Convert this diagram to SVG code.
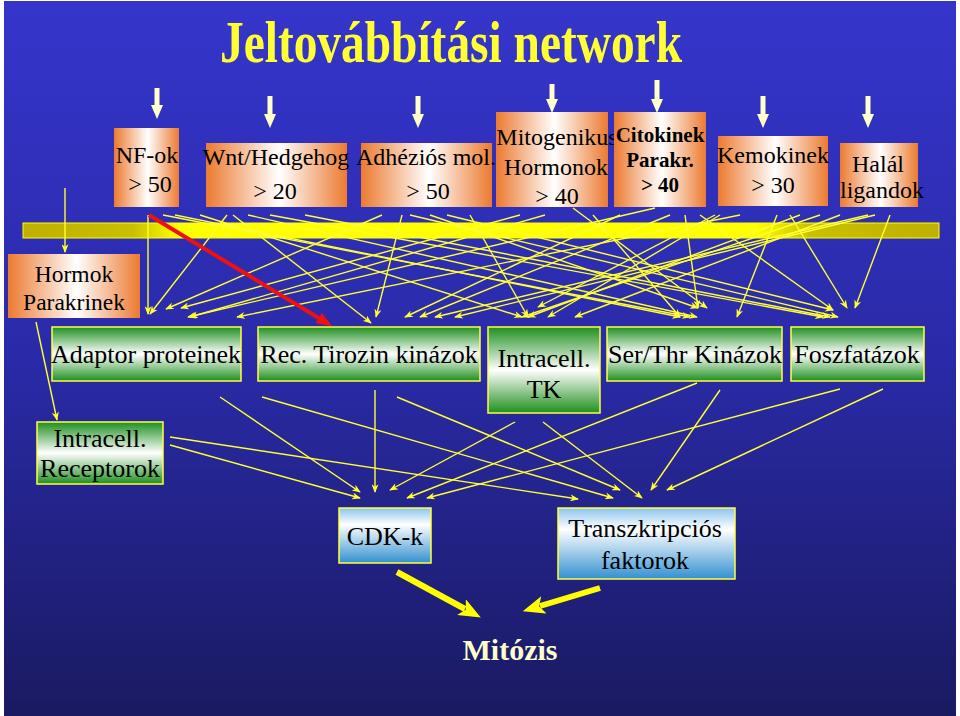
<svg xmlns="http://www.w3.org/2000/svg" width="960" height="716" viewBox="0 0 960 716">
<defs>
<linearGradient id="bg" x1="0" y1="0" x2="0" y2="1"><stop offset="0" stop-color="#3535cc"/><stop offset="0.5" stop-color="#2a2aa8"/><stop offset="1" stop-color="#1a1a62"/></linearGradient>
<linearGradient id="og" x1="0" y1="0" x2="1" y2="0"><stop offset="0" stop-color="#ec7a30"/><stop offset="0.52" stop-color="#ffffff"/><stop offset="1" stop-color="#ec7a30"/></linearGradient>
<linearGradient id="gg" x1="0" y1="0" x2="0" y2="1"><stop offset="0" stop-color="#1f8f1f"/><stop offset="0.5" stop-color="#ffffff"/><stop offset="1" stop-color="#1f8f1f"/></linearGradient>
<linearGradient id="blg" x1="0" y1="0" x2="0" y2="1"><stop offset="0" stop-color="#8cc4ee"/><stop offset="0.3" stop-color="#ffffff"/><stop offset="1" stop-color="#3390d0"/></linearGradient>
<linearGradient id="barg" x1="0" y1="0" x2="1" y2="0"><stop offset="0" stop-color="#bfb000"/><stop offset="0.12" stop-color="#c8c000"/><stop offset="0.17" stop-color="#ffff00"/><stop offset="0.8" stop-color="#ffff00"/><stop offset="0.86" stop-color="#c8c000"/><stop offset="1" stop-color="#bfb000"/></linearGradient>
<marker id="ay" viewBox="0 0 10 8" markerWidth="9" markerHeight="7" refX="9" refY="4" orient="auto" markerUnits="userSpaceOnUse"><path d="M0,0 L10,4 L0,8 L3,4 z" fill="#ffff33"/></marker>
<marker id="aw" viewBox="0 0 14 12" markerWidth="14" markerHeight="12" refX="1" refY="6" orient="auto" markerUnits="userSpaceOnUse"><path d="M0,0 L14,6 L0,12 z" fill="#ffffcc"/></marker>
<marker id="ab" viewBox="0 0 22 18" markerWidth="22" markerHeight="18" refX="4" refY="9" orient="auto" markerUnits="userSpaceOnUse"><path d="M0,0 L22,9 L0,18 L5,9 z" fill="#ffff00"/></marker>
<marker id="ar" viewBox="0 0 16 12" markerWidth="16" markerHeight="12" refX="4" refY="6" orient="auto" markerUnits="userSpaceOnUse"><path d="M0,0 L16,6 L0,12 z" fill="#ee1111"/></marker>
</defs>
<style>
.t{font-family:"Liberation Serif","Times New Roman",serif;fill:#000;text-anchor:middle}
.s24{font-size:24px}.s26{font-size:26px}
.b{font-weight:bold}
.ob{fill:url(#og)}
.gb{fill:url(#gg);stroke:#ffff44;stroke-width:1.5}
.bb{fill:url(#blg);stroke:#ffff44;stroke-width:1.5}
.ln{stroke:#ffff33;stroke-width:1.4;fill:none;marker-end:url(#ay)}
.tw{stroke:#ffffcc;stroke-width:5;marker-end:url(#aw)}
.tb{stroke:#ffff00;stroke-width:6;marker-end:url(#ab)}
</style>
<rect x="0" y="0" width="960" height="716" fill="#ffffff"/>
<rect x="4" y="1" width="952" height="715" fill="url(#bg)"/>
<text x="451" y="62" font-family="Liberation Serif,serif" font-weight="bold" font-size="60" fill="#ffff33" text-anchor="middle" textLength="462" lengthAdjust="spacingAndGlyphs">Jeltovábbítási network</text>

<g id="bar"><rect x="23" y="223" width="916" height="15" fill="url(#barg)" stroke="#ffff00" stroke-width="1"/></g>

<g id="nfok"><rect class="ob" x="114" y="128" width="65" height="79"/><text class="t s24" x="147" y="163">NF-ok</text><text class="t s24" x="150" y="192">&gt; 50</text></g>
<g id="wnt"><rect class="ob" x="206" y="143" width="141" height="64"/><text class="t s24" x="276" y="165">Wnt/Hedgehog</text><text class="t s24" x="275" y="199">&gt; 20</text></g>
<g id="adh"><rect class="ob" x="361" y="143" width="131" height="64"/><text class="t s24" x="426" y="165">Adhéziós mol.</text><text class="t s24" x="428" y="199">&gt; 50</text></g>
<g id="mito"><rect class="ob" x="496" y="112" width="112" height="95"/><text class="t s24" x="557" y="145">Mitogenikus</text><text class="t s24" x="556" y="175">Hormonok</text><text class="t s24" x="557" y="204">&gt; 40</text></g>
<g id="cito"><rect class="ob" x="614" y="112" width="92" height="95"/><text class="t b" font-size="21" x="660" y="142">Citokinek</text><text class="t b" font-size="21" x="660" y="167">Parakr.</text><text class="t b" font-size="21" x="660" y="192">&gt; 40</text></g>
<g id="kemo"><rect class="ob" x="718" y="136" width="110" height="70"/><text class="t s24" x="773" y="163">Kemokinek</text><text class="t s24" x="773" y="193">&gt; 30</text></g>
<g id="halal"><rect class="ob" x="840" y="143" width="78" height="64"/><text class="t s24" x="878" y="172">Halál</text><text class="t s24" x="882" y="198">ligandok</text></g>

<g id="hormok"><rect class="ob" x="8" y="254" width="132" height="64"/><text class="t" font-size="23.5" x="74" y="282">Hormok</text><text class="t" font-size="23.5" x="74" y="310">Parakrinek</text></g>

<g id="adaptor"><rect class="gb" x="52" y="327" width="189" height="54"/><text class="t s26" x="146" y="363">Adaptor proteinek</text></g>
<g id="rtk"><rect class="gb" x="258" y="327" width="222" height="54"/><text class="t s26" x="369" y="363">Rec. Tirozin kinázok</text></g>
<g id="itk"><rect class="gb" x="488" y="327" width="112" height="86"/><text class="t s26" x="544" y="367">Intracell.</text><text class="t s26" x="544" y="398">TK</text></g>
<g id="serthr"><rect class="gb" x="607" y="327" width="175" height="54"/><text class="t s26" x="695" y="363">Ser/Thr Kinázok</text></g>
<g id="foszf"><rect class="gb" x="791" y="327" width="133" height="54"/><text class="t s26" x="857" y="363">Foszfatázok</text></g>
<g id="irec"><rect class="gb" x="37" y="422" width="126" height="62"/><text class="t s26" x="100" y="447">Intracell.</text><text class="t s26" x="100" y="477">Receptorok</text></g>

<g id="cdk"><rect class="bb" x="339" y="508" width="92" height="55"/><text class="t s26" x="385" y="545">CDK-k</text></g>
<g id="tf"><rect class="bb" x="558" y="508" width="177" height="71"/><text class="t s26" x="645" y="537">Transzkripciós</text><text class="t s26" x="645" y="569">faktorok</text></g>

<g id="mitozis"><text x="510" y="660" font-family="Liberation Serif,serif" font-weight="bold" font-size="30" fill="#ffffcc" text-anchor="middle">Mitózis</text></g>

<g id="connectors">
<line class="tw" x1="157" y1="88" x2="157" y2="106"/>
<line class="tw" x1="270" y1="96" x2="270" y2="115"/>
<line class="tw" x1="418" y1="96" x2="418" y2="115"/>
<line class="tw" x1="552" y1="84" x2="552" y2="100"/>
<line class="tw" x1="657" y1="80" x2="657" y2="100"/>
<line class="tw" x1="763" y1="96" x2="763" y2="115"/>
<line class="tw" x1="868" y1="96" x2="868" y2="115"/>

<line class="ln" x1="65" y1="188" x2="65" y2="252"/>
<line class="ln" x1="148" y1="215" x2="148" y2="314"/>
<line class="ln" x1="227" y1="215" x2="150" y2="314"/>
<line class="ln" x1="233" y1="215" x2="371" y2="323"/>
<line class="ln" x1="382" y1="215" x2="166" y2="309"/>
<line class="ln" x1="402" y1="215" x2="376" y2="317"/>
<line class="ln" x1="163" y1="215" x2="690" y2="317"/>
<line class="ln" x1="175" y1="215" x2="680" y2="317"/>
<line class="ln" x1="200" y1="215" x2="522" y2="317"/>
<line class="ln" x1="248" y1="215" x2="697" y2="317"/>
<line class="ln" x1="270" y1="215" x2="823" y2="317"/>
<line class="ln" x1="305" y1="215" x2="830" y2="317"/>
<line class="ln" x1="410" y1="215" x2="838" y2="317"/>
<line class="ln" x1="430" y1="215" x2="698" y2="308"/>
<line class="ln" x1="447" y1="215" x2="833" y2="310"/>
<line class="ln" x1="470" y1="215" x2="528" y2="317"/>
<line class="ln" x1="520" y1="215" x2="181" y2="308"/>
<line class="ln" x1="545" y1="215" x2="190" y2="317"/>
<line class="ln" x1="573" y1="208" x2="707" y2="308"/>
<line class="ln" x1="593" y1="215" x2="680" y2="317"/>
<line class="ln" x1="620" y1="215" x2="405" y2="317"/>
<line class="ln" x1="655" y1="208" x2="188" y2="317"/>
<line class="ln" x1="670" y1="215" x2="420" y2="317"/>
<line class="ln" x1="685" y1="215" x2="698" y2="308"/>
<line class="ln" x1="700" y1="215" x2="833" y2="310"/>
<line class="ln" x1="715" y1="215" x2="538" y2="307"/>
<line class="ln" x1="720" y1="215" x2="548" y2="317"/>
<line class="ln" x1="740" y1="215" x2="237" y2="317"/>
<line class="ln" x1="777" y1="215" x2="737" y2="317"/>
<line class="ln" x1="790" y1="215" x2="847" y2="308"/>
<line class="ln" x1="800" y1="215" x2="528" y2="317"/>
<line class="ln" x1="840" y1="215" x2="575" y2="317"/>
<line class="ln" x1="868" y1="215" x2="435" y2="317"/>
<line class="ln" x1="875" y1="215" x2="455" y2="317"/>
<line class="ln" x1="890" y1="215" x2="855" y2="308"/>
<line class="ln" x1="820" y1="215" x2="522" y2="317"/>

<line stroke="#ee1111" stroke-width="4" marker-end="url(#ar)" x1="149" y1="215" x2="322" y2="320"/>

<line class="ln" x1="36" y1="322" x2="57" y2="420"/>
<line class="ln" x1="220" y1="397" x2="360" y2="492"/>
<line class="ln" x1="262" y1="397" x2="613" y2="498"/>
<line class="ln" x1="375" y1="390" x2="375" y2="492"/>
<line class="ln" x1="397" y1="397" x2="620" y2="490"/>
<line class="ln" x1="170" y1="437" x2="578" y2="499"/>
<line class="ln" x1="170" y1="445" x2="360" y2="498"/>
<line class="ln" x1="515" y1="422" x2="390" y2="490"/>
<line class="ln" x1="697" y1="383" x2="407" y2="498"/>
<line class="ln" x1="840" y1="389" x2="427" y2="498"/>
<line class="ln" x1="543" y1="422" x2="642" y2="498"/>
<line class="ln" x1="720" y1="390" x2="651" y2="490"/>
<line class="ln" x1="883" y1="389" x2="667" y2="490"/>

<line class="tb" x1="397" y1="572" x2="465" y2="609"/>
<line class="tb" x1="600" y1="588" x2="540" y2="606"/>
</g>
</svg>
